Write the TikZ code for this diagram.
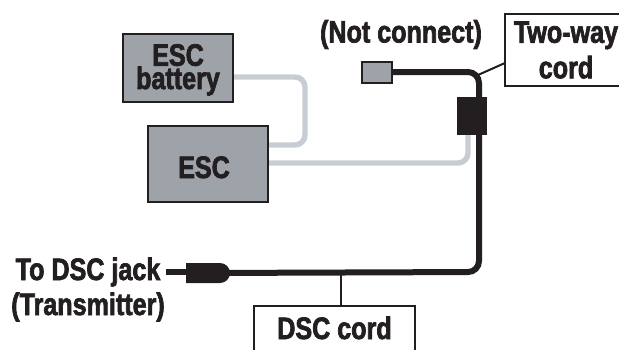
\documentclass[tikz,border=0pt]{standalone}
\usepackage{fontspec}
\usetikzlibrary{shapes.misc,backgrounds}
\newfontfamily\lab[FakeStretch=0.81,FakeBold=2.2]{Liberation Sans Bold}
\definecolor{ink}{HTML}{231F20}
\definecolor{unitgray}{HTML}{9EA3AA}
\definecolor{wiregray}{HTML}{C8CDD4}
\newcommand{\setline}[2]{\raisebox{#1}[20pt][0pt]{#2}}
\tikzset{
  every node/.style={font=\lab\fontsize{31}{35.5}\selectfont,text=ink,inner sep=0pt,outer sep=0pt},
  unit/.style={draw=ink,fill=unitgray,line width=2.8pt,align=center},
  callout/.style={draw=ink,fill=white,line width=2pt,align=center},
  leader/.style={draw=ink,line width=2pt},
  cord/.style={draw=ink,line width=6pt,rounded corners=11pt},
  wire/.style={draw=wiregray,line width=5.4pt,rounded corners=10pt},
  plug/.style={fill=ink,draw=none},
}
\begin{document}
\begin{tikzpicture}[x=1pt,y=-1pt]
\useasboundingbox (0,0) rectangle (619,349);
\node[unit,minimum width=110pt,minimum height=68pt,font=\lab\fontsize{31}{23.3}\selectfont] (battery) at (178,68) {\setline{0.6pt}{ESC}\\\setline{0.6pt}{battery}};
\node[unit,minimum width=120pt,minimum height=76pt] (esc) at (208,164) {\hspace*{-8pt}\setline{-4pt}{ESC}};
\node[plug,minimum width=30pt,minimum height=38pt] (split) at (472,116) {};
\node[unit,line width=2pt,minimum width=30pt,minimum height=21pt] (notplug) at (376.5,72) {};
\node[plug,rounded rectangle,rounded rectangle left arc=none,minimum width=44pt,minimum height=20pt] (jack) at (208,273) {};
\coordinate (stub) at (166,272);
\begin{scope}[on background layer]
\draw[wire] (battery.east |- 0,77) -- (305,77) -- (305,145) -- (esc.east |- 0,145);
\draw[wire] (esc.east |- 0,163) -- (468,163) -- (468,134);
\draw[cord] (notplug.east) -- (479,72) -- (479,272) -- (jack.center);
\end{scope}
\draw[draw=ink,line width=5.4pt] (stub) -- (jack.west |- stub);
\node[callout,minimum width=122pt,minimum height=72pt] (twoway) at (566,50) {Two-way\\cord};
\node[callout,minimum width=161pt,minimum height=50pt] (dsc) at (334.5,331) {\setline{2pt}{DSC cord}};
\coordinate (twotap) at (478,75);
\coordinate (dsctap) at (341,272);
\draw[leader] (twoway.west |- 0,63) -- (twotap);
\draw[leader] (dsctap) -- (dsctap |- dsc.north);
\node[anchor=base] (notconnect) at (401,42.5) {(Not connect)};
\node[anchor=base] (todsc) at (88,280) {To DSC jack};
\node[anchor=base] (transm) at (88,315) {(Transmitter)};
\end{tikzpicture}
\end{document}
